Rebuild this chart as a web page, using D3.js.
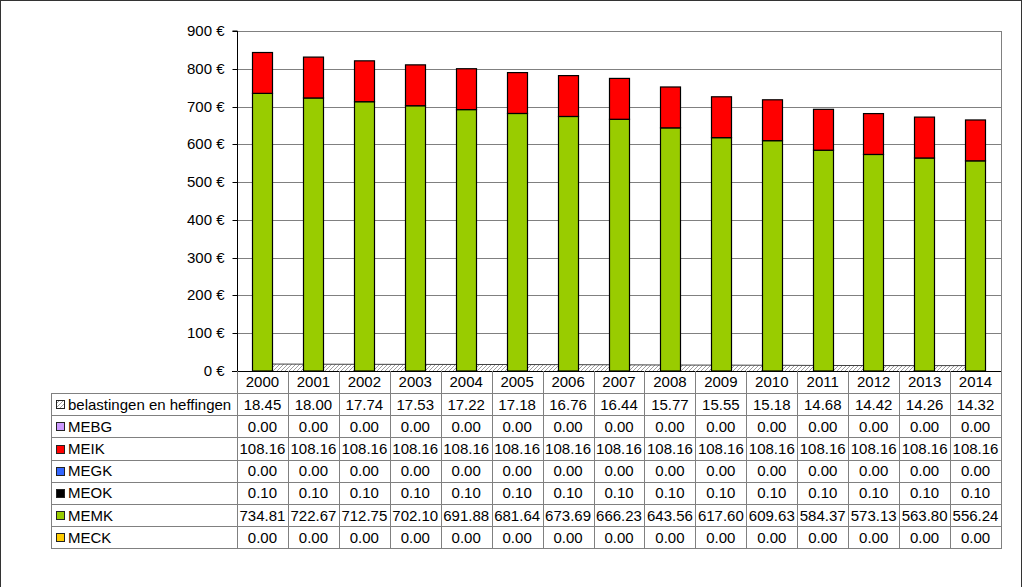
<!DOCTYPE html>
<html><head><meta charset="utf-8">
<script src="https://cdn.jsdelivr.net/npm/d3@7"></script>
<style>
html,body{margin:0;padding:0;background:#fff;}
text{font-family:"Liberation Sans",Arial,sans-serif;font-size:15px;fill:#000;}
</style></head>
<body>
<svg id="c" width="1024" height="587"></svg>
<script>
const years = ["2000","2001","2002","2003","2004","2005","2006","2007","2008","2009","2010","2011","2012","2013","2014"];
const belastingen = [18.45,18.00,17.74,17.53,17.22,17.18,16.76,16.44,15.77,15.55,15.18,14.68,14.42,14.26,14.32];
const MEBG = [0,0,0,0,0,0,0,0,0,0,0,0,0,0,0];
const MEIK = [108.16,108.16,108.16,108.16,108.16,108.16,108.16,108.16,108.16,108.16,108.16,108.16,108.16,108.16,108.16];
const MEGK = [0,0,0,0,0,0,0,0,0,0,0,0,0,0,0];
const MEOK = [0.10,0.10,0.10,0.10,0.10,0.10,0.10,0.10,0.10,0.10,0.10,0.10,0.10,0.10,0.10];
const MEMK = [734.81,722.67,712.75,702.10,691.88,681.64,673.69,666.23,643.56,617.60,609.63,584.37,573.13,563.80,556.24];
const MECK = [0,0,0,0,0,0,0,0,0,0,0,0,0,0,0];
const yTicks = [0,100,200,300,400,500,600,700,800,900];

// stack order bottom -> top
const stackSeries = [
  {name:"MECK", values:MECK, color:"#ffcc00"},
  {name:"MEMK", values:MEMK, color:"#99cc00"},
  {name:"MEOK", values:MEOK, color:"#000000"},
  {name:"MEGK", values:MEGK, color:"#3366ff"},
  {name:"MEIK", values:MEIK, color:"#ff0000"},
  {name:"MEBG", values:MEBG, color:"#cc99ff"}
];
// table rows (top -> bottom)
const tableRows = [
  {name:"belastingen en heffingen", values:belastingen, color:"url(#hatch)"},
  {name:"MEBG", values:MEBG, color:"#cc99ff"},
  {name:"MEIK", values:MEIK, color:"#ff0000"},
  {name:"MEGK", values:MEGK, color:"#3366ff"},
  {name:"MEOK", values:MEOK, color:"#000000"},
  {name:"MEMK", values:MEMK, color:"#99cc00"},
  {name:"MECK", values:MECK, color:"#ffcc00"}
];

const svg = d3.select("#c");
const defs = svg.append("defs");
const pat = defs.append("pattern").attr("id","hatch").attr("patternUnits","userSpaceOnUse")
  .attr("width",4).attr("height",4);
pat.append("rect").attr("width",4).attr("height",4).attr("fill","#ffffff");
pat.append("path").attr("d","M-1,1 l2,-2 M0,4 l4,-4 M3,5 l2,-2").attr("stroke","#a0a0a0").attr("stroke-width",1);

// outer border
svg.append("rect").attr("x",0.5).attr("y",0.5).attr("width",1021).attr("height",620)
  .attr("fill","none").attr("stroke","#333").attr("stroke-width",1);

const L = 237, R = 1001, T = 31, B = 371;
const x = d3.scaleBand().domain(years).range([L,R]).paddingInner(0.6).paddingOuter(0.3);
const xc = d3.scaleBand().domain(years).range([L,R]);
const y = d3.scaleLinear().domain([0,900]).range([B,T]);

// gridlines
svg.append("g").selectAll("line").data(yTicks.filter(d=>d>0)).join("line")
  .attr("x1",L).attr("x2",R).attr("y1",d=>Math.round(y(d))+0.5).attr("y2",d=>Math.round(y(d))+0.5)
  .attr("stroke","#808080").attr("stroke-width",1);
// plot right border
svg.append("line").attr("x1",R+0.5).attr("x2",R+0.5).attr("y1",T).attr("y2",B).attr("stroke","#808080");

// area (belastingen)
const area = d3.area().x((d,i)=>xc(years[i])+xc.bandwidth()/2).y0(y(0)).y1(d=>y(d));
svg.append("path").datum(belastingen).attr("d",area).attr("fill","url(#hatch)");
const line = d3.line().x((d,i)=>xc(years[i])+xc.bandwidth()/2).y(d=>y(d));
svg.append("path").datum(belastingen).attr("d",line).attr("fill","none").attr("stroke","#404040").attr("stroke-width",1);

// stacked bars
const stackData = years.map((yr,i)=>{const o={year:yr}; stackSeries.forEach(s=>o[s.name]=s.values[i]); return o;});
const stacked = d3.stack().keys(stackSeries.map(s=>s.name))(stackData);
stacked.forEach((layer,k)=>{
  const s = stackSeries[k];
  svg.append("g").selectAll("rect").data(layer.filter(d=>d[1]-d[0]>0.5)).join("rect")
    .attr("x",d=>Math.round(x(d.data.year))+0.5)
    .attr("width",Math.round(x.bandwidth()))
    .attr("y",d=>y(d[1]))
    .attr("height",d=>y(d[0])-y(d[1]))
    .attr("fill",s.color).attr("stroke","#000").attr("stroke-width",1.2);
});

// y axis
const yAxis = d3.axisLeft(y).tickValues(yTicks).tickFormat(d=>d+" €").tickSize(5).tickPadding(8);
const ga = svg.append("g").attr("transform",`translate(${L+0.5},0)`).call(yAxis);
ga.select(".domain").attr("stroke","#000").attr("d",`M-5,${y(900)}H0V${B}`);
ga.selectAll(".tick line").attr("stroke","#000");
ga.selectAll(".tick text").attr("font-size",15).attr("font-family","Liberation Sans, Arial, sans-serif").attr("fill","#000");
ga.selectAll(".tick").attr("transform",d=>`translate(0,${Math.round(y(d))+0.5})`);
// x axis baseline
svg.append("line").attr("x1",L-5).attr("x2",R+1).attr("y1",B+0.5).attr("y2",B+0.5).attr("stroke","#000");

// data table
const rowH = 22.2, hdrTop = B, tblTop = 393, tLeft = 51;
const tblBottom = tblTop + rowH*tableRows.length;
const tg = svg.append("g");
years.forEach((yr,i)=>{
  tg.append("line").attr("x1",Math.round(xc(yr))+0.5).attr("x2",Math.round(xc(yr))+0.5)
    .attr("y1",hdrTop).attr("y2",tblBottom).attr("stroke","#808080");
});
tg.append("line").attr("x1",R+0.5).attr("x2",R+0.5).attr("y1",hdrTop).attr("y2",tblBottom).attr("stroke","#808080");
tg.append("line").attr("x1",tLeft+0.5).attr("x2",tLeft+0.5).attr("y1",tblTop).attr("y2",tblBottom).attr("stroke","#808080");
d3.range(tableRows.length+1).forEach(k=>{
  const yy = Math.round(tblTop + k*rowH)+0.5;
  tg.append("line").attr("x1",tLeft).attr("x2",R+1).attr("y1",yy).attr("y2",yy).attr("stroke","#808080");
});
tg.selectAll("text.yr").data(years).join("text").attr("class","yr")
  .attr("x",d=>xc(d)+xc.bandwidth()/2).attr("y",(hdrTop+tblTop)/2).attr("dy","0.36em")
  .attr("text-anchor","middle").text(d=>d);
tableRows.forEach((r,k)=>{
  const cy = tblTop + k*rowH + rowH/2;
  tg.append("rect").attr("x",56.5).attr("y",Math.round(cy-4)+0.5).attr("width",8).attr("height",8)
    .attr("fill",r.color).attr("stroke","#222").attr("stroke-width",1);
  tg.append("text").attr("x",68).attr("y",cy).attr("dy","0.36em").text(r.name);
  tg.selectAll(null).data(r.values).join("text")
    .attr("x",(d,i)=>xc(years[i])+xc.bandwidth()/2).attr("y",cy).attr("dy","0.36em")
    .attr("text-anchor","middle").text(d=>d.toFixed(2));
});
</script>
</body></html>
